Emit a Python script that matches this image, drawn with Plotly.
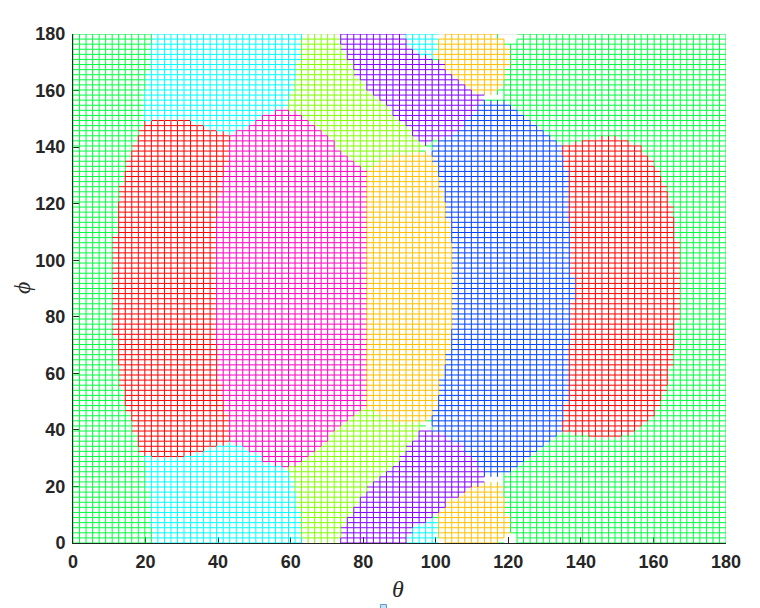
import numpy as np
import plotly.graph_objects as go

# Mesh nodes (degrees)
THETA = np.linspace(0, 180, 101)
PHI = np.linspace(0, 180, 101)
TICKS = [0, 20, 40, 60, 80, 100, 120, 140, 160, 180]

# Colours of the classes
RED = "#ff0000"; ORANGE = "#ffbf00"; LIME = "#80ff00"; GREEN = "#00ff40"
CYAN = "#00ffff"; BLUE = "#0040ff"; PURPLE = "#8000ff"; PINK = "#ff00bf"

# Region outlines as (theta, phi)
CYAN_UP = [(22,181),(63.3,181),(62.6,173),(61.2,163.7),(59.8,157.7),(59,154),(50,140),(30,140),(19.3,148),(19.8,160),(21.2,170)]
CYAN_LOW = [(22,-1),(63.3,-1),(62.6,9),(61.2,18.7),(59.8,23.4),(59,26.5),(50,40),(30,40),(19.6,31),(20.4,22.3),(21.2,12.7)]
LIME_UP = [(63.2,181),(73.5,181),(73.6,177),(75.5,171.5),(78.3,165.5),(81,161),(84.6,156.6),(88.8,151.3),(93.4,145),(96.5,140.7),(95.6,138),(88.2,137),(84.6,135.4),(81,132),(75.5,137),(70.8,143),(66.2,147.8),(62.6,151),(59,154),(59.8,157.7),(61.2,163.7),(62.6,173)]
LIME_LOW = [(63.2,-1),(73.5,-1),(73.6,2),(75.5,8),(78.3,14),(81.9,19.8),(86.5,25),(90,29.3),(92.9,35.4),(96,40),(96,42.8),(92.9,42.4),(90,42.8),(84.6,45),(80.5,48),(75.5,42.8),(70.8,37.5),(66.2,31.8),(62.6,28),(59,26.5),(59.8,23.4),(61.2,18.7),(62.6,9)]
PURPLE_UP = [(73.6,181),(90.7,181),(92,176.8),(94.8,173.6),(99,170.8),(100.3,170.8),(104,166.6),(109.4,161),(112.7,158.4),(113,156.6),(112.2,154.9),(107.5,147.8),(104,143.5),(100.3,142.5),(97,141),(96.5,140.7),(93.4,145),(88.8,151.3),(84.6,156.6),(81,161),(78.3,165.5),(75.5,171.5),(73.6,177)]
PURPLE_LOW = [(73.6,-1),(91.5,-1),(93.4,5),(96,7),(99.8,9),(100.3,10.6),(104,15),(110,19.5),(113,21.6),(113,24),(111.4,28),(107.5,34),(104,37),(99.2,40),(96,40),(92.9,35.4),(90,29.3),(86.5,25),(81.9,19.8),(78.3,14),(75.5,8),(73.6,2)]
CYAN_SMALL_UP = [(90.7,181),(100.3,181),(100.3,178),(99.8,171.5),(99,170.8),(94.8,173.6),(92,176.8)]
CYAN_SMALL_LOW = [(91.5,-1),(100.3,-1),(100.3,9),(99.8,9),(96,7),(93.4,5)]
ORANGE_SMALL_UP = [(100.3,181),(117,181),(117,178.5),(118.5,178.5),(120.5,175),(119.6,168),(118.5,161),(115.8,158.4),(112.7,158.4),(109.4,161),(104,166.6),(100.3,170.8),(99.8,171.5),(100.3,178.5)]
ORANGE_SMALL_LOW = [(100.3,-1),(117.7,-1),(117.7,1),(120.5,4.6),(120,8),(119,15),(118.2,21.6),(113,21.6),(110,19.5),(104,15),(100.3,10.6),(100.3,1)]
BLUE_MAIN = [(113,156.6),(118.5,156.6),(122.7,153),(126.8,149),(131,144.3),(134.8,140),(135,136.5),(136,131),(136.5,121),(137,108),(137.8,93),(137.8,89.5),(137.5,80),(136.7,69),(136.4,58.7),(135.9,49.5),(135,42.4),(134.2,39),(129.5,34),(126.5,30.4),(122.4,27),(118.2,24),(113,24),(111.4,28),(107.5,34),(104,37),(99.2,40),(98.4,44),(100.3,49.5),(102,60),(103.4,67),(104.4,75),(105.3,87),(105.3,93),(104.4,106),(103.4,115),(102,124),(100.3,132),(98.7,138),(100.3,142.5),(104,143.5),(107.5,147.8),(112.2,154.9)]
ORANGE_BIG = [(81,132),(84.6,135.4),(88.2,137),(95.6,138),(98.7,138),(100.3,132),(102,124),(103.4,115),(104.4,106),(105.3,93),(105.3,87),(104.4,75),(103.4,67),(102,60),(100.3,49.5),(98.4,44),(96,42.8),(92.9,42.4),(90,42.8),(84.6,45),(80.5,48),(80.8,55),(81,66),(81,125)]
RED_LEFT = [(19.3,148.5),(22.6,150),(30.4,150),(36.8,147),(43.3,144.3),(43,136.5),(41.4,129.4),(39.6,115.5),(39.4,104.6),(39.4,89.5),(39.2,80),(39.6,70.7),(39.7,61),(41.4,50.5),(43,42.4),(43.3,35.8),(36.8,33),(30.4,30.5),(22.6,30.5),(19.6,31),(18,34),(16.2,42.4),(14,49.5),(13,59),(12.2,67),(11.6,74),(11,80),(11,89),(11,99),(11.6,108),(12.2,116.6),(13,124),(14.3,131),(16.2,139),(17.6,143.6)]
PINK_MAIN = [(43.3,144.3),(46,146),(50.2,149.6),(53.8,152),(59,154),(62.6,151),(66.2,147.8),(70.8,143),(75.5,137),(80.5,132),(81,125),(81,99),(81,66),(80.8,55),(80.5,48),(75.5,42.8),(70.8,37.5),(66.2,31.8),(62.6,28),(59,26.5),(53.8,28),(50.2,31.8),(46.5,34),(43.3,35.8),(43,42.4),(41.4,50.5),(39.7,61),(39.6,70.7),(39.2,80),(39.4,89.5),(39.4,104.6),(39.6,115.5),(41.4,129.4),(43,136.5)]
RED_RIGHT = [(134.8,140),(136.2,140.7),(140.6,142.5),(147.2,143.6),(152.7,142.5),(156.3,140),(158.5,137),(160.4,133.7),(162.4,129.5),(164,124),(165.4,116),(166.5,108),(167,99),(167,89.5),(166.5,79),(166,70.7),(165,63.6),(163.7,55),(161.8,49.5),(160,45),(156.3,40.7),(152.7,38),(147.2,37),(140.6,38),(136.2,39),(134.2,39),(135,42.4),(135.9,49.5),(136.4,58.7),(136.7,69),(137.5,80),(137.8,89.5),(137.8,93),(137,108),(136.5,121),(136,131),(135,136.5)]

# Holes in the mesh
HOLE_TOP_A = [(63.4,179.5),(73.4,179.5),(73.4,181),(63.4,181)]
HOLE_BOT_A = [(63.4,-1),(73.4,-1),(73.4,0.5),(63.4,0.5)]
HOLE_TOP_B = [(100.5,179),(102,179),(102,181),(100.5,181)]
HOLE_BOT_B = [(100.5,-1),(102,-1),(102,1),(100.5,1)]
HOLE_TOP_C = [(117,181),(123.5,181),(121.8,178),(120.5,175.5),(118.5,178.5)]
HOLE_BOT_C = [(117.7,-1),(123.5,-1),(121.8,1.8),(120.5,4.6)]
HOLE_MID_A = [(113,156.8),(118.3,156.8),(118.3,158.8),(113,158.8)]
HOLE_MID_B = [(113,21.4),(118.3,21.4),(118.3,23.8),(113,23.8)]
HOLE_MID_C = [(96.4,138),(98.5,138),(98.5,140),(96.4,140)]
HOLE_MID_D = [(96.4,40.5),(98.5,40.5),(98.5,42.5),(96.4,42.5)]

PAINT = [
    (CYAN, CYAN_UP), (CYAN, CYAN_LOW), (LIME, LIME_UP), (LIME, LIME_LOW),
    (PURPLE, PURPLE_UP), (PURPLE, PURPLE_LOW),
    (CYAN, CYAN_SMALL_UP), (CYAN, CYAN_SMALL_LOW),
    (ORANGE, ORANGE_SMALL_UP), (ORANGE, ORANGE_SMALL_LOW),
    (BLUE, BLUE_MAIN), (ORANGE, ORANGE_BIG),
    (RED, RED_LEFT), (PINK, PINK_MAIN), (RED, RED_RIGHT),
]
HOLES = [HOLE_TOP_A, HOLE_BOT_A, HOLE_TOP_B, HOLE_BOT_B, HOLE_TOP_C, HOLE_BOT_C,
         HOLE_MID_A, HOLE_MID_B, HOLE_MID_C, HOLE_MID_D]
COLOURS = [GREEN, RED, ORANGE, LIME, CYAN, BLUE, PURPLE, PINK]


def inside(poly, X, Y):
    px = np.array([p[0] for p in poly]); py = np.array([p[1] for p in poly])
    res = np.zeros(X.shape, dtype=bool)
    for i in range(len(poly)):
        j = (i - 1) % len(poly)
        if py[i] == py[j]:
            continue
        cond = (py[i] > Y) != (py[j] > Y)
        xint = px[i] + (Y - py[i]) * (px[j] - px[i]) / (py[j] - py[i])
        res ^= cond & (X < xint)
    return res


def classify(X, Y):
    out = np.full(X.shape, COLOURS.index(GREEN), dtype=int)
    for col, poly in PAINT:
        out[inside(poly, X, Y)] = COLOURS.index(col)
    for poly in HOLES:
        out[inside(poly, X, Y)] = -1
    return out


T = np.array(THETA); P = np.array(PHI)
# horizontal edges classified at their middles, vertical edges likewise
HX, HY = np.meshgrid((T[:-1] + T[1:]) / 2, P)
VX, VY = np.meshgrid(T, (P[:-1] + P[1:]) / 2)
h_label = classify(HX, HY)
v_label = classify(VX, VY)

segs = {c: ([], []) for c in range(len(COLOURS))}
for r in range(h_label.shape[0]):
    for c in range(h_label.shape[1]):
        k = h_label[r, c]
        if k >= 0:
            segs[k][0].extend([T[c], T[c + 1], None]); segs[k][1].extend([P[r], P[r], None])
for r in range(v_label.shape[0]):
    for c in range(v_label.shape[1]):
        k = v_label[r, c]
        if k >= 0:
            segs[k][0].extend([T[c], T[c], None]); segs[k][1].extend([P[r], P[r + 1], None])

fig = go.Figure()
for k, colour in enumerate(COLOURS):
    xs, ys = segs[k]
    fig.add_trace(go.Scatter(x=xs, y=ys, mode="lines", cliponaxis=False, hoverinfo="skip",
                             line=dict(color=colour, width=1, simplify=False), showlegend=False))

TICKFONT = dict(family="Liberation Sans", size=18, color="#262626", weight=700)
TITLEFONT = dict(family="Liberation Serif", size=24, color="#262626")
AXIS = dict(range=[0, 180], tickmode="array", tickvals=TICKS, ticks="inside", ticklen=6,
            tickcolor="#262626", tickwidth=1, showgrid=False, zeroline=False, showline=True,
            linecolor="#262626", linewidth=1, layer="below traces", tickfont=TICKFONT,
            automargin=False)
fig.update_layout(
    width=760, height=608, autosize=False, paper_bgcolor="white", plot_bgcolor="white",
    margin=dict(l=65, r=42, t=26, b=73), showlegend=False,
    xaxis=dict(AXIS, ticklabelstandoff=2),
    yaxis=dict(AXIS, ticklabelstandoff=3),
    annotations=[
        dict(text="<i>θ</i>", xref="paper", yref="paper", x=(390-65)/653, y=(535-581)/509,
             showarrow=False, font=TITLEFONT, xanchor="center", yanchor="middle"),
        dict(text="<i>ϕ</i>", xref="paper", yref="paper", x=(14-65)/653, y=(535-280)/509,
             showarrow=False, font=TITLEFONT, xanchor="center", yanchor="middle", textangle=-90),
    ],
    shapes=[
        dict(type="line", xref="x", yref="y", x0=0, x1=180, y0=180, y1=180,
             line=dict(color="#d9d9d9", width=1), layer="below"),
        dict(type="rect", xref="paper", yref="paper", x0=(372.5-65)/653, x1=(378.5-65)/653,
             y0=(535-604)/509, y1=(535-596.5)/509, fillcolor="#c5e1f5",
             line=dict(color="#5b9bd5", width=1), layer="above"),
    ],
)
fig.write_html("out.html")
